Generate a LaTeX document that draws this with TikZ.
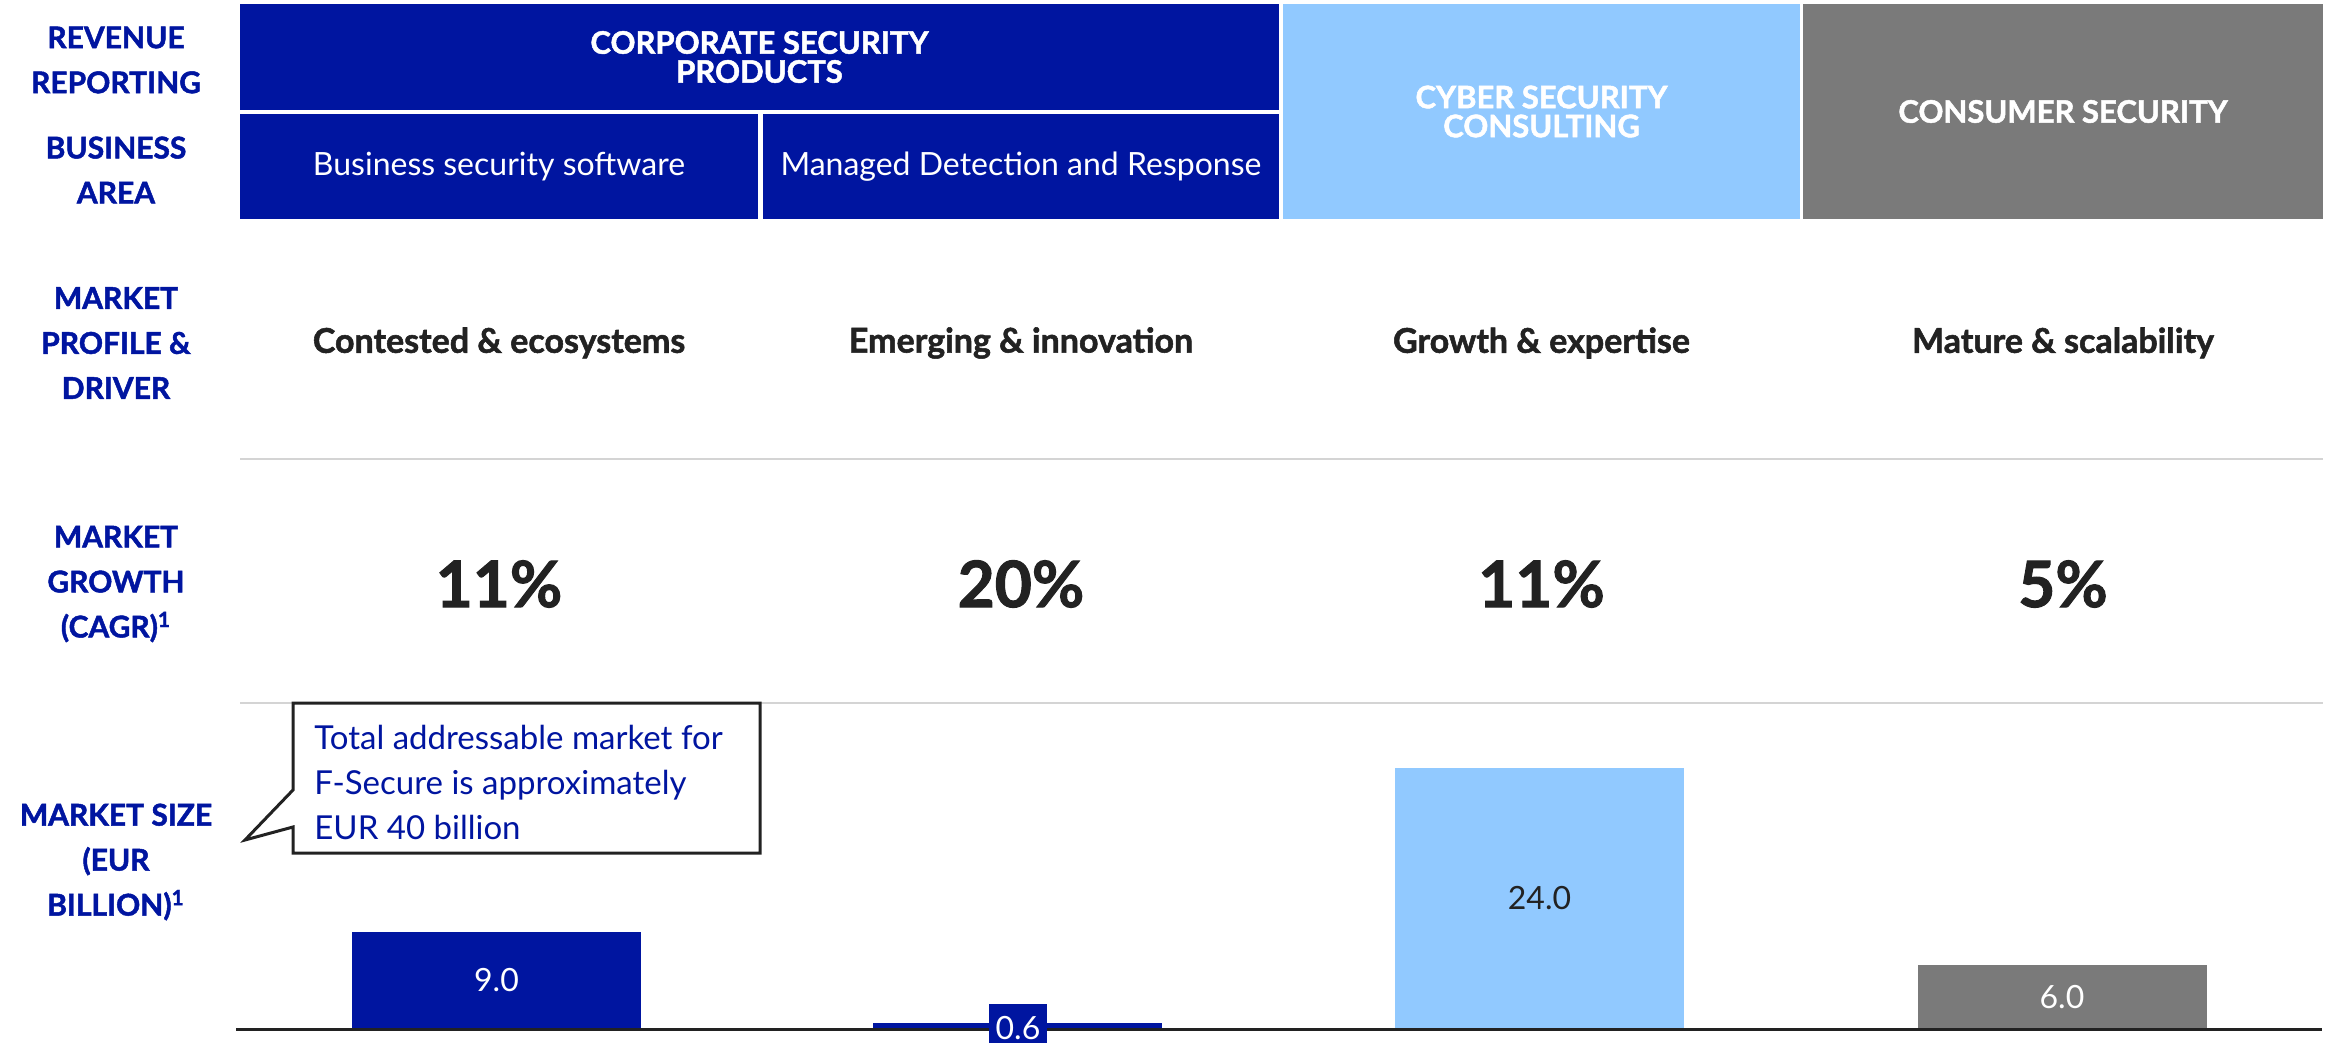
\documentclass[tikz,border=0pt]{standalone}
\usepackage{fontspec}
\setmainfont{Lato}[BoldFeatures={FakeBold=1.6}]
\usepackage{tikz}
\definecolor{fsblue}{RGB}{0,21,160}
\definecolor{fslight}{RGB}{145,201,255}
\definecolor{fsgrey}{RGB}{122,122,122}
\definecolor{fsdark}{RGB}{34,34,34}
\definecolor{fsrule}{RGB}{212,212,212}

\begin{document}
\begin{tikzpicture}[x=0.5pt, y=-0.5pt,
  box/.style={inner sep=0pt, outer sep=0pt, text=white, align=center},
  headtext/.style={font=\fontsize{15.5}{14.5}\selectfont\bfseries},
  areatext/.style={font=\fontsize{16}{19}\selectfont},
  rowlabel/.style={inner sep=0pt, text=fsblue, align=center,
    font=\fontsize{15}{22.5}\selectfont\bfseries},
  driver/.style={inner sep=0pt, text=fsdark,
    font=\fontsize{17}{20}\selectfont\bfseries},
  growth/.style={inner sep=0pt, text=fsdark,
    font=\fontsize{32}{36}\selectfont\bfseries},
  bar/.style={inner sep=0pt, outer sep=0pt, anchor=south,
    minimum width=144.5pt, font=\fontsize{16}{19}\selectfont},
  rule/.style={line width=1pt, color=fsrule}]

\useasboundingbox (0,0) rectangle (2336,1043);

\node[rowlabel] (revenue) at (116,60) {REVENUE\\REPORTING};
\node[rowlabel] (area) at (116,170) {BUSINESS\\AREA};
\node[rowlabel] (profile) at (116,343) {MARKET\\PROFILE \&\\DRIVER};
\node[rowlabel] (cagr) at (116,584) {MARKET\\GROWTH\\(CAGR)\textsuperscript{1}};
\node[rowlabel] (size) at (116,862) {MARKET SIZE\\(EUR\\BILLION)\textsuperscript{1}};

\node[box, headtext, fill=fsblue, minimum width=519.5pt, minimum height=53pt]
  (corporate) at (759.5,57) {CORPORATE SECURITY\\PRODUCTS};

\node[box, areatext, fill=fsblue, minimum width=259pt, minimum height=52.5pt]
  (bss) at (499,166.5) {Business security software};

\node[box, areatext, fill=fsblue, minimum width=258pt, minimum height=52.5pt]
  (mdr) at (1021,166.5) {Managed Detection and Response};

\node[box, headtext, fill=fslight, minimum width=258.5pt, minimum height=107.5pt]
  (cyber) at (1541.5,111.5) {CYBER SECURITY\\CONSULTING};

\node[box, headtext, fill=fsgrey, minimum width=260pt, minimum height=107.5pt]
  (consumer) at (2063,111.5) {CONSUMER SECURITY};

\node[driver] (d1) at (499,343) {Contested \& ecosystems};
\node[driver] (d2) at (1021,343) {Emerging \& innovation};
\node[driver] (d3) at (1541.5,343) {Growth \& expertise};
\node[driver] (d4) at (2063,343) {Mature \& scalability};

\coordinate (r1a) at (240,459);
\coordinate (r1b) at (2323,459);
\coordinate (r2a) at (240,703);
\coordinate (r2b) at (2323,703);
\draw[rule] (r1a) -- (r1b);
\draw[rule] (r2a) -- (r2b);

\node[growth] (g1) at (499,584) {11\%};
\node[growth] (g2) at (1021,584) {20\%};
\node[growth] (g3) at (1541.5,584) {11\%};
\node[growth] (g4) at (2063,584) {5\%};

\node[bar, fill=fsblue, text=white, minimum height=48.5pt]
  (b1) at (496.5,1029) {9.0};
\node[bar, fill=fsblue, minimum height=3.25pt]
  (b2) at (1017.5,1029) {};
\node[bar, fill=fslight, text=fsdark, minimum height=130.5pt]
  (b3) at (1539.5,1029) {24.0};
\node[bar, fill=fsgrey, text=white, minimum height=32pt]
  (b4) at (2062,1029) {6.0};

\coordinate (ax0) at (236,1029);
\coordinate (ax1) at (2322,1029);
\draw[line width=1.5pt, color=fsdark] (ax0) -- (ax1);

\node[fill=fsblue, text=white, inner sep=0pt, minimum width=29pt,
  minimum height=24pt, font=\fontsize{16}{19}\selectfont]
  (b2label) at (1018,1028) {0.6};

\draw[line width=1.5pt, color=fsdark, fill=white]
  (293,703) -- (760,703) -- (760,853) -- (293,853) -- (293,827)
  -- (245,840) -- (293,790) -- cycle;
\node[inner sep=0pt, anchor=west, align=left, text=fsblue,
  font=\fontsize{16.5}{22.5}\selectfont]
  (tam) at (314,782) {Total addressable market for\\F-Secure is approximately\\EUR 40 billion};

\end{tikzpicture}
\end{document}
